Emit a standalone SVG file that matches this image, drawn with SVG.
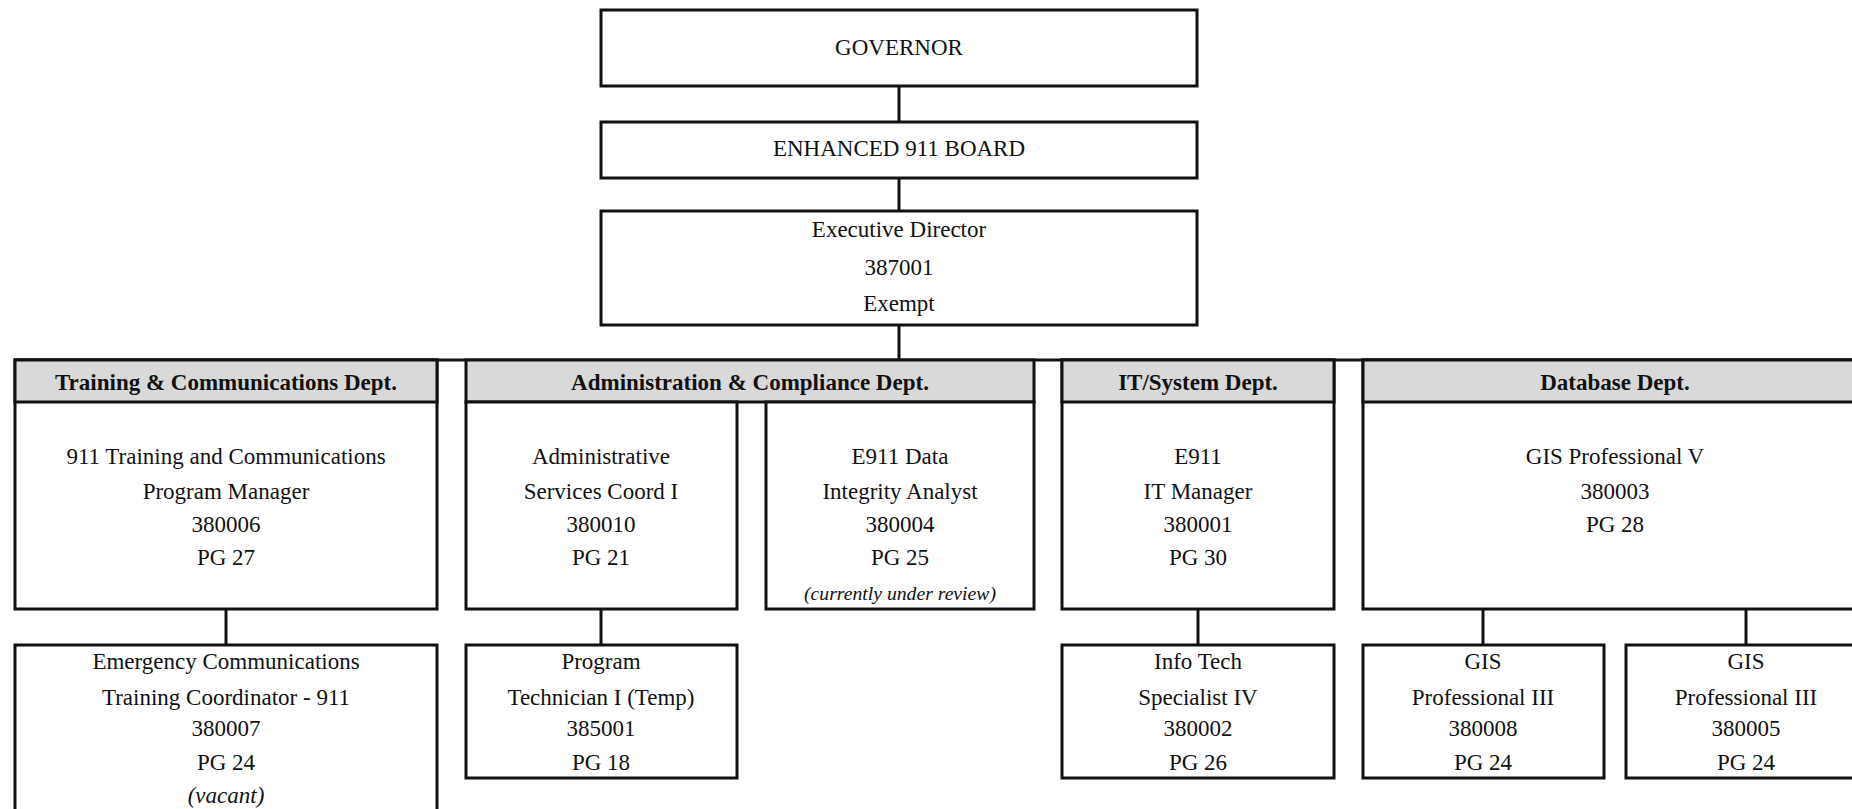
<svg xmlns="http://www.w3.org/2000/svg" width="1852" height="809" viewBox="0 0 1852 809">
<style>
  .box { fill: #ffffff; stroke: #111111; stroke-width: 3; }
  .hdr { fill: #d9d9d9; stroke: #111111; stroke-width: 3; }
  .conn { stroke: #111111; stroke-width: 3; fill: none; }
  text { font-family: "Liberation Serif", "Times New Roman", serif; font-size: 23px; fill: #111111; text-anchor: middle; }
  .b { font-weight: bold; }
  .i { font-style: italic; }
  .s { font-size: 19px; font-style: italic; }
</style>
<rect x="0" y="0" width="1852" height="809" fill="#ffffff"/>

<g id="connectors">
  <line class="conn" x1="899" y1="86" x2="899" y2="122"/>
  <line class="conn" x1="899" y1="178" x2="899" y2="211"/>
  <line class="conn" x1="899" y1="325" x2="899" y2="360"/>
  <line class="conn" x1="14" y1="360" x2="1852" y2="360"/>
  <line class="conn" x1="226" y1="609" x2="226" y2="645"/>
  <line class="conn" x1="601" y1="609" x2="601" y2="645"/>
  <line class="conn" x1="1198" y1="609" x2="1198" y2="645"/>
  <line class="conn" x1="1483" y1="609" x2="1483" y2="645"/>
  <line class="conn" x1="1746" y1="609" x2="1746" y2="645"/>
</g>

<g id="governor">
  <rect class="box" x="601" y="10" width="596" height="76"/>
  <text x="899" y="55">GOVERNOR</text>
</g>

<g id="board">
  <rect class="box" x="601" y="122" width="596" height="56"/>
  <text x="899" y="156">ENHANCED 911 BOARD</text>
</g>

<g id="executive-director">
  <rect class="box" x="601" y="211" width="596" height="114"/>
  <text x="899" y="237">Executive Director</text>
  <text x="899" y="275">387001</text>
  <text x="899" y="311">Exempt</text>
</g>

<g id="training-dept">
  <rect class="box" x="15" y="360" width="422" height="249"/>
  <rect class="hdr" x="15" y="360" width="422" height="42"/>
  <text class="b" x="226" y="390">Training &amp; Communications Dept.</text>
  <text x="226" y="464">911 Training and Communications</text>
  <text x="226" y="499">Program Manager</text>
  <text x="226" y="532">380006</text>
  <text x="226" y="565">PG 27</text>
</g>

<g id="admin-dept">
  <rect class="hdr" x="466" y="360" width="568" height="42"/>
  <text class="b" x="750" y="390">Administration &amp; Compliance Dept.</text>
</g>

<g id="admin-services">
  <rect class="box" x="466" y="402" width="271" height="207"/>
  <text x="601" y="464">Administrative</text>
  <text x="601" y="499">Services Coord I</text>
  <text x="601" y="532">380010</text>
  <text x="601" y="565">PG 21</text>
</g>

<g id="data-integrity">
  <rect class="box" x="766" y="402" width="268" height="207"/>
  <text x="900" y="464">E911 Data</text>
  <text x="900" y="499">Integrity Analyst</text>
  <text x="900" y="532">380004</text>
  <text x="900" y="565">PG 25</text>
  <text class="s" x="900" y="600" textLength="192" lengthAdjust="spacingAndGlyphs">(currently under review)</text>
</g>

<g id="it-dept">
  <rect class="box" x="1062" y="360" width="272" height="249"/>
  <rect class="hdr" x="1062" y="360" width="272" height="42"/>
  <text class="b" x="1198" y="390">IT/System Dept.</text>
  <text x="1198" y="464">E911</text>
  <text x="1198" y="499">IT Manager</text>
  <text x="1198" y="532">380001</text>
  <text x="1198" y="565">PG 30</text>
</g>

<g id="database-dept">
  <rect class="box" x="1363" y="360" width="505" height="249"/>
  <rect class="hdr" x="1363" y="360" width="505" height="42"/>
  <text class="b" x="1615" y="390">Database Dept.</text>
  <text x="1615" y="464">GIS Professional V</text>
  <text x="1615" y="499">380003</text>
  <text x="1615" y="532">PG 28</text>
</g>

<g id="training-coordinator">
  <rect class="box" x="15" y="645" width="422" height="175"/>
  <text x="226" y="669">Emergency Communications</text>
  <text x="226" y="705">Training Coordinator - 911</text>
  <text x="226" y="736">380007</text>
  <text x="226" y="770">PG 24</text>
  <text class="i" x="226" y="803">(vacant)</text>
</g>

<g id="program-technician">
  <rect class="box" x="466" y="645" width="271" height="133"/>
  <text x="601" y="669">Program</text>
  <text x="601" y="705">Technician I (Temp)</text>
  <text x="601" y="736">385001</text>
  <text x="601" y="770">PG 18</text>
</g>

<g id="info-tech">
  <rect class="box" x="1062" y="645" width="272" height="133"/>
  <text x="1198" y="669">Info Tech</text>
  <text x="1198" y="705">Specialist IV</text>
  <text x="1198" y="736">380002</text>
  <text x="1198" y="770">PG 26</text>
</g>

<g id="gis-380008">
  <rect class="box" x="1363" y="645" width="241" height="133"/>
  <text x="1483" y="669">GIS</text>
  <text x="1483" y="705">Professional III</text>
  <text x="1483" y="736">380008</text>
  <text x="1483" y="770">PG 24</text>
</g>

<g id="gis-380005">
  <rect class="box" x="1626" y="645" width="242" height="133"/>
  <text x="1746" y="669">GIS</text>
  <text x="1746" y="705">Professional III</text>
  <text x="1746" y="736">380005</text>
  <text x="1746" y="770">PG 24</text>
</g>
</svg>
